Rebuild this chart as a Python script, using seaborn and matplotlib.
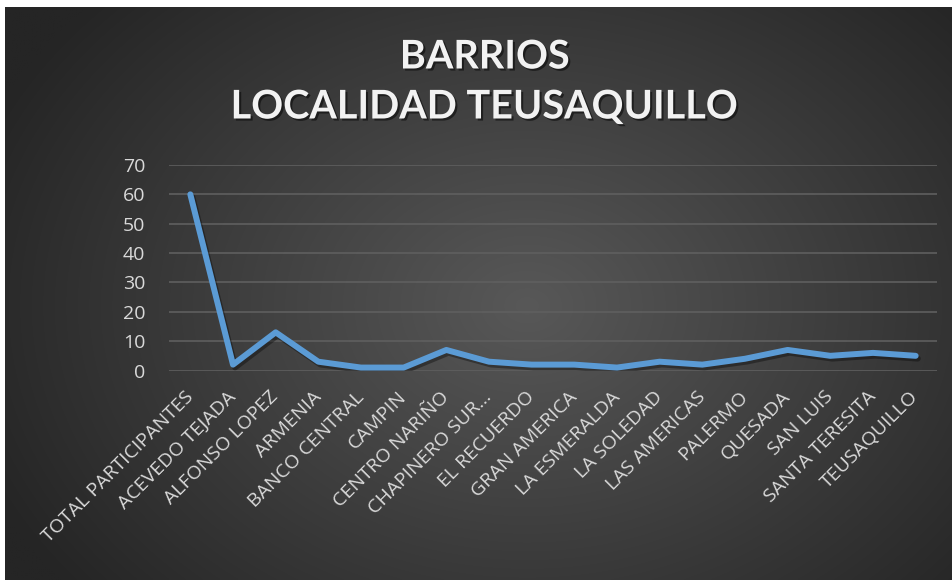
import numpy as np
import pandas as pd
import matplotlib
matplotlib.use("Agg")
import matplotlib.pyplot as plt
import matplotlib.patheffects as pe
import seaborn as sns

barrios = ["TOTAL PARTICIPANTES", "ACEVEDO TEJADA", "ALFONSO LOPEZ", "ARMENIA",
           "BANCO CENTRAL", "CAMPIN", "CENTRO NARIÑO", "CHAPINERO SUR...",
           "EL RECUERDO", "GRAN AMERICA", "LA ESMERALDA", "LA SOLEDAD",
           "LAS AMERICAS", "PALERMO", "QUESADA", "SAN LUIS", "SANTA TERESITA",
           "TEUSAQUILLO"]
valores = [60, 2, 13, 3, 1, 1, 7, 3, 2, 2, 1, 3, 2, 4, 7, 5, 6, 5]
y_ticks = [0, 10, 20, 30, 40, 50, 60, 70]
titulo_1 = "BARRIOS"
titulo_2 = "LOCALIDAD TEUSAQUILLO"

sns.set_theme(style="dark")
plt.rcParams["font.family"] = ["Open Sans", "DejaVu Sans"]

W, H = 953, 580
fig = plt.figure(figsize=(W / 100, H / 100), dpi=100, facecolor="white")

# background with radial gradient
bg = fig.add_axes([5 / W, 0, (W - 5) / W, (H - 7) / H])
bg.set_axis_off()
ny, nx = 300, 500
yy, xx = np.mgrid[0:ny, 0:nx]
cx, cy = nx * 0.55, ny * 0.52
r = np.sqrt(((xx - cx) / (nx * 0.62)) ** 2 + ((yy - cy) / (ny * 0.78)) ** 2)
r = np.clip(r, 0, 1)
inner = np.array([0x58, 0x58, 0x58]) / 255
outer = np.array([0x25, 0x25, 0x25]) / 255
img = inner[None, None, :] * (1 - r[..., None]) + outer[None, None, :] * r[..., None]
bg.imshow(img, aspect="auto", extent=[0, 1, 0, 1], interpolation="bilinear")
bg.set_xlim(0, 1)
bg.set_ylim(0, 1)

ax = fig.add_axes([169 / W, (H - 370.5) / H, 768 / W, (370.5 - 165) / H])
ax.patch.set_alpha(0)
df = pd.DataFrame({"barrio": barrios, "valor": valores})
df["pos"] = np.arange(len(barrios))
sns.lineplot(data=df, x="pos", y="valor", sort=False, ax=ax, color="#5B9BD5",
             linewidth=4.3, solid_capstyle="round", solid_joinstyle="round",
             path_effects=[pe.SimpleLineShadow(offset=(1.5, -2), alpha=0.35, shadow_color="black"),
                           pe.Normal()])
ax.set_xlim(-0.5, len(barrios) - 0.5)
ax.set_ylim(0, 70)
ax.set_yticks(y_ticks)
ax.set_xticks(np.arange(len(barrios)))
ax.set_xticklabels(barrios, rotation=45, ha="right", va="center",
                   rotation_mode="anchor", color="#d9d9d9", fontsize=14)
ax.tick_params(axis="x", pad=17, length=0)
ax.tick_params(axis="y", pad=17, length=0, labelsize=14, labelcolor="#d9d9d9")
ax.set_xlabel("")
ax.set_ylabel("")
ax.grid(axis="y", color="#5f5f5f", linewidth=1.2)
ax.grid(axis="x", visible=False)
for s in ax.spines.values():
    s.set_visible(False)
ax.set_axisbelow(True)

shadow = [pe.withSimplePatchShadow(offset=(1.5, -1.5), shadow_rgbFace="black", alpha=0.5)]
fig.text(485 / W, 1 - 57 / H, titulo_1, ha="center", va="center", color="#f2f2f2",
         fontsize=28.5, fontweight="bold", family=["Lato", "DejaVu Sans"],
         path_effects=shadow)
fig.text(485 / W, 1 - 107 / H, titulo_2, ha="center", va="center", color="#f2f2f2",
         fontsize=28.5, fontweight="bold", family=["Lato", "DejaVu Sans"],
         path_effects=shadow)

fig.savefig("out.png", dpi=100, facecolor="white")
